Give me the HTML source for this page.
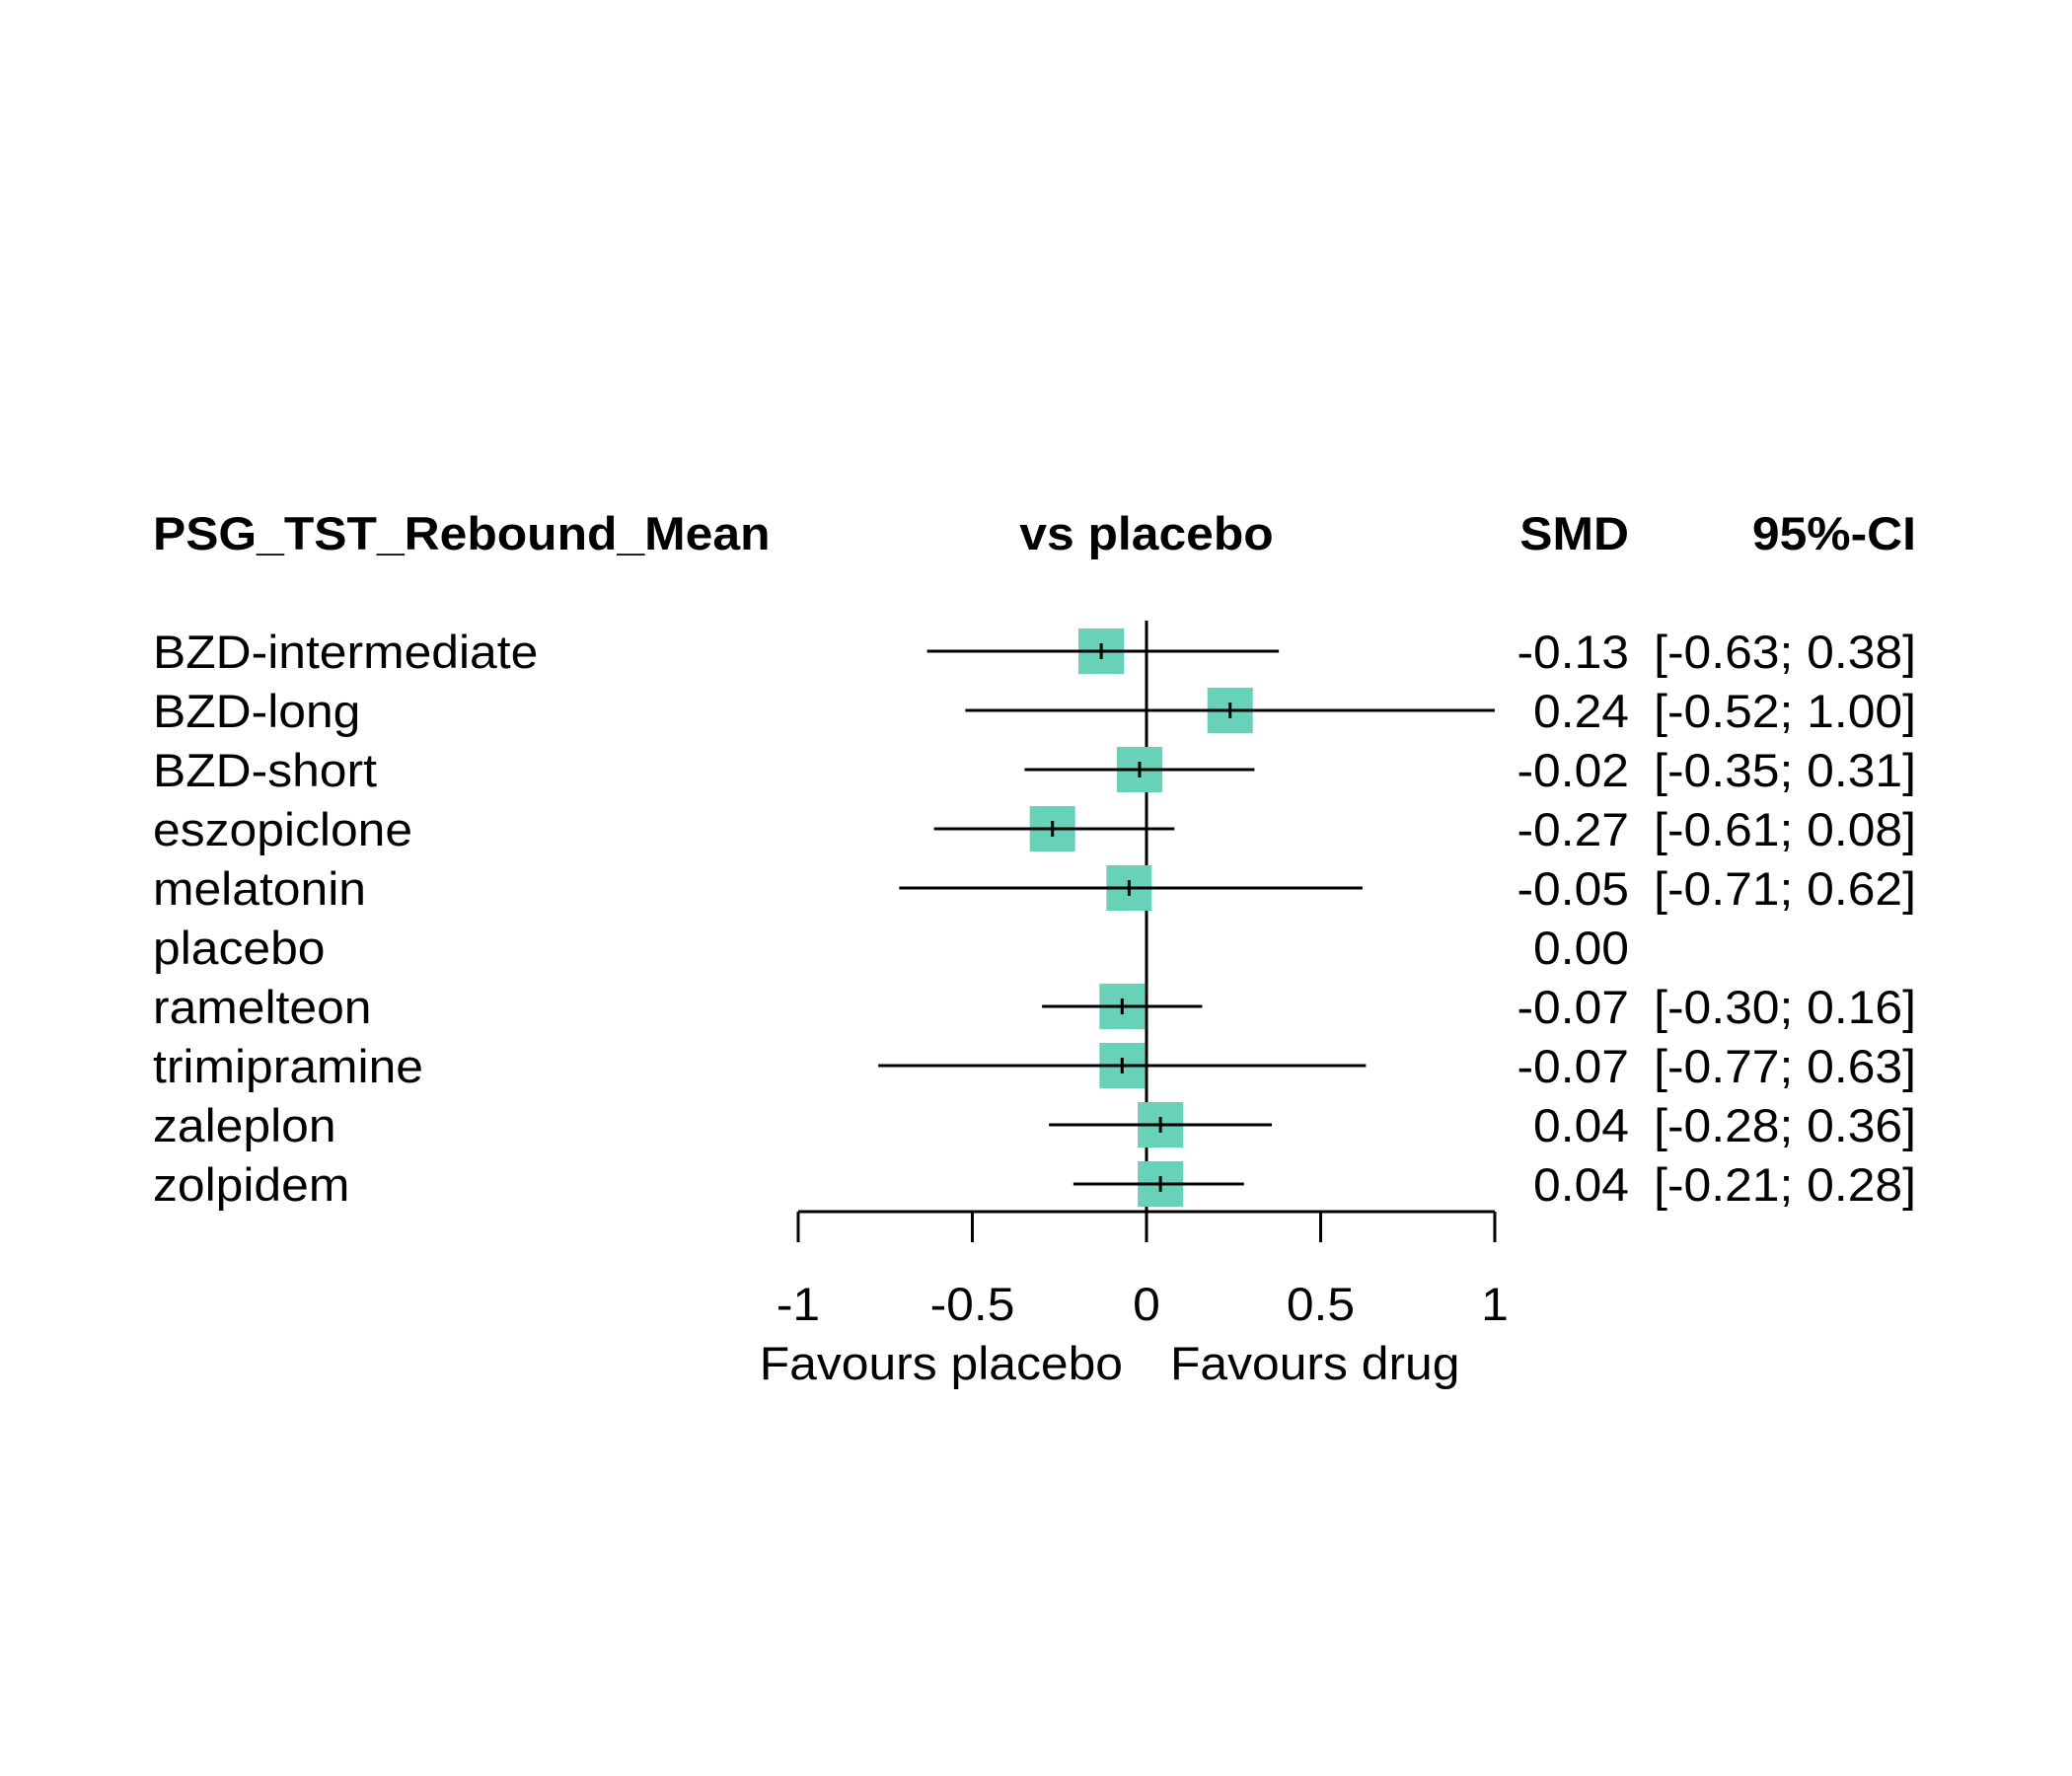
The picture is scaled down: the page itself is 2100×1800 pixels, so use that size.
<!DOCTYPE html>
<html><head><meta charset="utf-8"><style>body{margin:0;background:#fff}svg{display:block}text{font-family:"Liberation Sans",Arial,sans-serif;font-size:47px;fill:#000}</style></head>
<body>
<svg id="chart" width="2100" height="1800" viewBox="0 0 2100 1800" xmlns="http://www.w3.org/2000/svg">
<text class="st" x="155" y="557" font-weight="bold">PSG_TST_Rebound_Mean</text>
<text class="st" x="1162" y="557" font-weight="bold" text-anchor="middle">vs placebo</text>
<text class="st" x="1651" y="557" font-weight="bold" text-anchor="end">SMD</text>
<text class="st" x="1942" y="557" font-weight="bold" text-anchor="end">95%-CI</text>
<g id="rows"></g>
<g id="axis"></g>
</svg>
<script>
const treatments=["BZD-intermediate","BZD-long","BZD-short","eszopiclone","melatonin","placebo","ramelteon","trimipramine","zaleplon","zolpidem"];
const smd=[-0.13,0.24,-0.02,-0.27,-0.05,0.00,-0.07,-0.07,0.04,0.04];
const lower=[-0.63,-0.52,-0.35,-0.61,-0.71,null,-0.30,-0.77,-0.28,-0.21];
const upper=[0.38,1.00,0.31,0.08,0.62,null,0.16,0.63,0.36,0.28];
const ticks=[-1,-0.5,0,0.5,1];
const tickLabels=["-1","-0.5","0","0.5","1"];
const NS="http://www.w3.org/2000/svg";
const SX=1.06;
const x=v=>1162+v*353;
const y=i=>660+i*60;
function mk(tag,attrs,parent){const e=document.createElementNS(NS,tag);for(const k in attrs)e.setAttribute(k,attrs[k]);parent.appendChild(e);return e;}
function stretch(e){const ax0=+e.getAttribute('x');e.setAttribute('transform','translate('+ax0+',0) scale('+SX+',1) translate('+(-ax0)+',0)');}
document.querySelectorAll('text.st').forEach(stretch);
const rows=document.getElementById('rows');
const ax=document.getElementById('axis');
const zl=mk('line',{x1:x(0),x2:x(0),y1:629,y2:1228,stroke:'#000','stroke-width':3},rows);


treatments.forEach((t,i)=>{
  const lab=mk('text',{x:155,y:y(i)+17},rows);lab.textContent=t;stretch(lab);
  
  
  const v=mk('text',{x:1651,y:y(i)+17,'text-anchor':'end'},rows);v.textContent=smd[i].toFixed(2);stretch(v);
  
  
  if(lower[i]===null)return;
  const c=mk('text',{x:1942,y:y(i)+17,'text-anchor':'end'},rows);c.textContent="["+lower[i].toFixed(2)+"; "+upper[i].toFixed(2)+"]";stretch(c);
  
  
  const b=mk('rect',{x:x(smd[i])-23,y:y(i)-23,width:46,height:46,fill:'#68D2B8'},rows);
  
  
  const l=mk('line',{x1:x(lower[i]),x2:x(Math.min(upper[i],1)),y1:y(i),y2:y(i),stroke:'#000','stroke-width':3},rows);
  
  
  const m=mk('line',{x1:x(smd[i]),x2:x(smd[i]),y1:y(i)-8,y2:y(i)+8,stroke:'#000','stroke-width':3},rows);
  
  
});
const al=mk('line',{x1:x(-1),x2:x(1),y1:1228,y2:1228,stroke:'#000','stroke-width':3},ax);


ticks.forEach((t,i)=>{
  const tk=mk('line',{x1:x(t),x2:x(t),y1:1228,y2:1259,stroke:'#000','stroke-width':3},ax);
  
  
  const tl=mk('text',{x:x(t),y:1338,'text-anchor':'middle'},ax);tl.textContent=tickLabels[i];stretch(tl);
  
  
});
const f1=mk('text',{x:1138,y:1398,'text-anchor':'end'},ax);f1.textContent="Favours placebo";stretch(f1);


const f2=mk('text',{x:1186,y:1398},ax);f2.textContent="Favours drug";stretch(f2);


</script>
</body></html>
